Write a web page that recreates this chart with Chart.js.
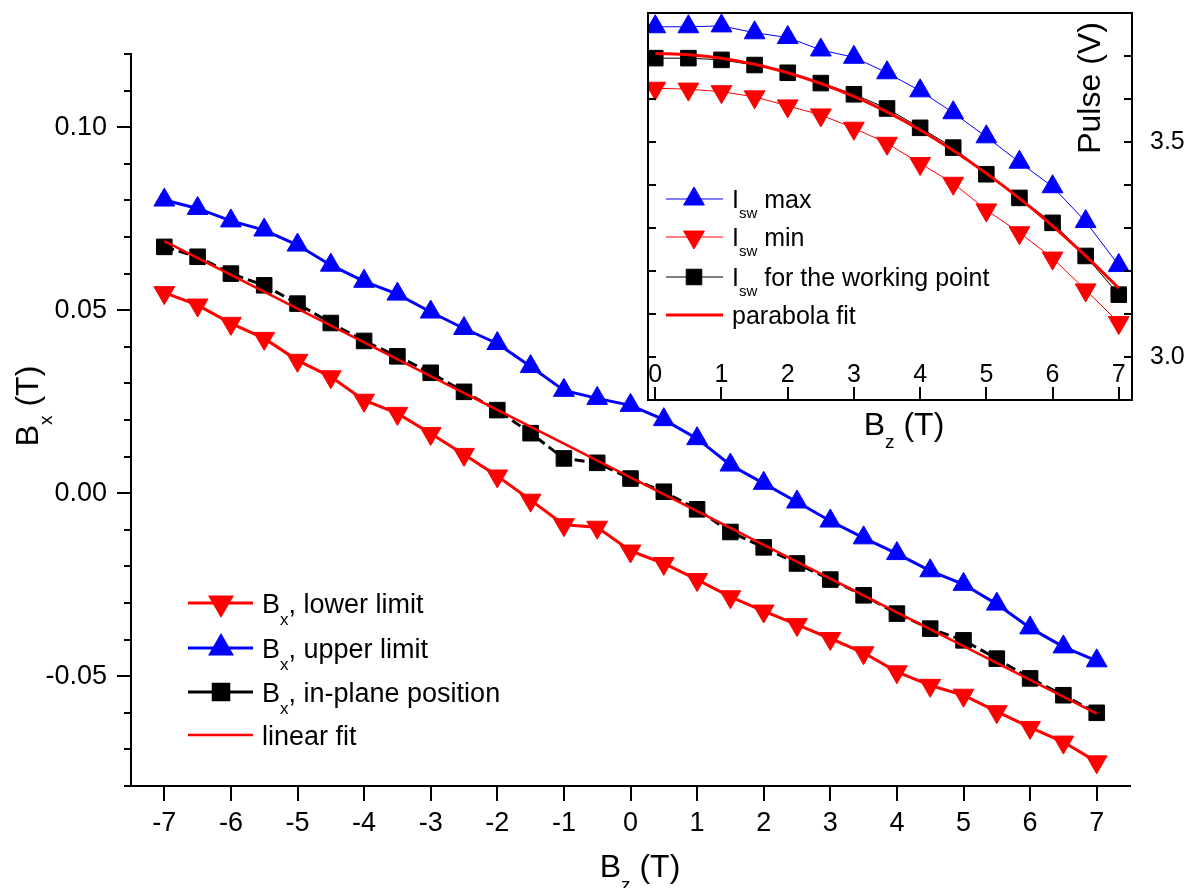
<!DOCTYPE html>
<html><head><meta charset="utf-8">
<script src="https://cdn.jsdelivr.net/npm/chart.js@4.4.1/dist/chart.umd.min.js"></script>
<style>
html,body{margin:0;padding:0;background:#fff;}
#wrap{position:relative;width:1188px;height:888px;overflow:hidden;background:#fff;}
#main{position:absolute;left:0;top:0;}
#inset{position:absolute;left:600px;top:0;}
</style></head><body>
<div id="wrap"><canvas id="main" width="1188" height="888"></canvas><canvas id="inset" width="588" height="450"></canvas></div>
<script>
// ---------- main chart data ----------
const bz = [-7,-6.5,-6,-5.5,-5,-4.5,-4,-3.5,-3,-2.5,-2,-1.5,-1,-0.5,0,0.5,1,1.5,2,2.5,3,3.5,4,4.5,5,5.5,6,6.5,7];
const bxLower = [0.0548,0.0514,0.0464,0.0423,0.0363,0.0318,0.0254,0.0218,0.0163,0.0106,0.0047,-0.0019,-0.0086,-0.0093,-0.0158,-0.0192,-0.0236,-0.0283,-0.0322,-0.0359,-0.0397,-0.0436,-0.0488,-0.0525,-0.0552,-0.0597,-0.0640,-0.0680,-0.0734];
const bxUpper = [0.0801,0.0778,0.0744,0.0719,0.0678,0.0623,0.0579,0.0544,0.0495,0.0450,0.0409,0.0346,0.0281,0.0259,0.0240,0.0201,0.0149,0.0077,0.0027,-0.0024,-0.0076,-0.0122,-0.0165,-0.0212,-0.0249,-0.0303,-0.0368,-0.0420,-0.0458];
const bxInPlane = [0.0673,0.0646,0.0600,0.0568,0.0518,0.0465,0.0416,0.0374,0.0329,0.0277,0.0227,0.0164,0.0095,0.0083,0.0040,0.0004,-0.0044,-0.0106,-0.0148,-0.0192,-0.0236,-0.0279,-0.0329,-0.0370,-0.0402,-0.0452,-0.0506,-0.0552,-0.0600];
const linFitX = [-7, 7];
const linFitY = [0.0689, -0.0602];

const mainXTicks = [-7,-6,-5,-4,-3,-2,-1,0,1,2,3,4,5,6,7];
const mainYTicks = [-0.08,-0.07,-0.06,-0.05,-0.04,-0.03,-0.02,-0.01,0,0.01,0.02,0.03,0.04,0.05,0.06,0.07,0.08,0.09,0.10,0.11,0.12];
const mainYMajor = [-0.05, 0, 0.05, 0.10];
const mainYLabels = ['-0.05', '0.00', '0.05', '0.10'];

const mainLegendHead = ['B', 'B', 'B', 'linear fit'];
const mainLegendSub  = ['x', 'x', 'x', ''];
const mainLegendTail = [', lower limit', ', upper limit', ', in-plane position', ''];

// ---------- inset data ----------
const bzInset = [0,0.5,1,1.5,2,2.5,3,3.5,4,4.5,5,5.5,6,6.5,7];
const iswMax  = [3.768,3.768,3.770,3.754,3.743,3.714,3.697,3.661,3.619,3.568,3.512,3.453,3.396,3.315,3.213];
const iswMin  = [3.625,3.623,3.617,3.605,3.584,3.563,3.532,3.497,3.450,3.404,3.342,3.289,3.230,3.156,3.080];
const iswWork = [3.695,3.695,3.691,3.679,3.661,3.637,3.611,3.578,3.533,3.487,3.425,3.370,3.312,3.235,3.145];
const parabolaFit = [3.706,3.703,3.695,3.681,3.661,3.636,3.606,3.570,3.528,3.480,3.427,3.369,3.305,3.235,3.160];

const insetXTicks = [0,1,2,3,4,5,6,7];
const insetXLabels = ['0','1','2','3','4','5','6','7'];
const insetYTicks = [2.9,3.0,3.1,3.2,3.3,3.4,3.5,3.6,3.7,3.8];
const insetYMajor = [3.0, 3.5];
const insetYLabels = ['3.0', '3.5'];

const insetLegendHead = ['I', 'I', 'I', 'parabola fit'];
const insetLegendSub  = ['sw', 'sw', 'sw', ''];
const insetLegendTail = [' max', ' min', ' for the working point', ''];

// ---------- helpers ----------
const FONT = "'Liberation Sans', Arial, Helvetica, sans-serif";
function pts(xs, ys) { return xs.map((x, i) => ({x: x, y: ys[i]})); }
function majorIndex(list, v) { for (let i = 0; i < list.length; i++) if (Math.abs(list[i] - v) < 1e-9) return i; return -1; }
function noPad(s) { s.paddingTop = 0; s.paddingBottom = 0; s.paddingLeft = 0; s.paddingRight = 0; }

function drawRich(ctx, x, y, parts, align, rot) {
  ctx.save();
  ctx.translate(x, y);
  ctx.rotate(rot || 0);
  ctx.textBaseline = 'alphabetic';
  ctx.textAlign = 'left';
  ctx.fillStyle = '#000';
  let w = 0;
  parts.forEach(p => { ctx.font = p.s + 'px ' + FONT; p.w = ctx.measureText(p.t).width; w += p.w; });
  let cx = align === 'center' ? -w / 2 : 0;
  parts.forEach(p => { ctx.font = p.s + 'px ' + FONT; ctx.fillText(p.t, cx, p.dy || 0); cx += p.w; });
  ctx.restore();
}

function legendSample(ctx, x1, x2, xm, y, color, lw, style, rot, radius) {
  ctx.save();
  ctx.strokeStyle = color; ctx.lineWidth = lw; ctx.setLineDash([]);
  ctx.beginPath(); ctx.moveTo(x1, y); ctx.lineTo(x2, y); ctx.stroke();
  if (style) {
    ctx.fillStyle = color; ctx.strokeStyle = color;
    Chart.helpers.drawPoint(ctx, {pointStyle: style, radius: radius, rotation: rot, borderWidth: 1}, xm, y);
  }
  ctx.restore();
}

// ---------- main chart ----------
const mainDecor = {
  id: 'mainDecor',
  afterDraw(chart) {
    const ctx = chart.ctx, ca = chart.chartArea, xs = chart.scales.x, ys = chart.scales.y;
    ctx.save();
    ctx.strokeStyle = '#000'; ctx.lineWidth = 2;
    ctx.beginPath();
    mainYTicks.forEach(v => {
      const py = Math.round(ys.getPixelForValue(v));
      const len = majorIndex(mainYMajor, v) >= 0 ? 14 : 7;
      ctx.moveTo(ca.left - len, py); ctx.lineTo(ca.left, py);
    });
    mainXTicks.forEach(v => {
      const px = Math.round(xs.getPixelForValue(v));
      ctx.moveTo(px, ca.bottom); ctx.lineTo(px, ca.bottom + 15);
    });
    ctx.stroke();
    ctx.restore();

    drawRich(ctx, 640, 877, [{t: 'B', s: 32}, {t: 'z', s: 19, dy: 14}, {t: ' (T)', s: 32}], 'center', 0);
    drawRich(ctx, 38, 406, [{t: 'B', s: 32}, {t: 'x', s: 19, dy: 14}, {t: ' (T)', s: 32}], 'center', -Math.PI / 2);

    const ly = [603, 648, 692, 735];
    const cols = ['#ff0000', '#0000ff', '#000000', '#ff0000'];
    const styles = ['triangle', 'triangle', 'rect', null];
    const rots = [180, 0, 0, 0];
    const lws = [3, 3, 3, 2.5];
    for (let i = 0; i < 4; i++) {
      legendSample(ctx, 188, 253, 221, ly[i], cols[i], lws[i], styles[i], rots[i], styles[i] === 'rect' ? 11 : 12);
      const parts = [{t: mainLegendHead[i], s: 27}];
      if (mainLegendSub[i]) parts.push({t: mainLegendSub[i], s: 17, dy: 12});
      if (mainLegendTail[i]) parts.push({t: mainLegendTail[i], s: 27});
      drawRich(ctx, 262, ly[i] + 10, parts, 'left', 0);
    }
  }
};

new Chart(document.getElementById('main'), {
  type: 'scatter',
  data: {
    datasets: [
      {label: 'linear fit', data: pts(linFitX, linFitY), showLine: true, borderColor: '#ff0000', borderWidth: 2.5, pointRadius: 0, order: 0},
      {label: 'Bx, in-plane position', data: pts(bz, bxInPlane), showLine: true, borderColor: '#000', backgroundColor: '#000', borderWidth: 3, borderDash: [10, 5], pointStyle: 'rect', pointRadius: 11, pointBorderWidth: 1, pointBorderColor: '#000', order: 1},
      {label: 'Bx, lower limit', data: pts(bz, bxLower), showLine: true, borderColor: '#ff0000', backgroundColor: '#ff0000', borderWidth: 3, pointStyle: 'triangle', pointRotation: 180, pointRadius: 12, pointBorderWidth: 1, pointBorderColor: '#ff0000', order: 2},
      {label: 'Bx, upper limit', data: pts(bz, bxUpper), showLine: true, borderColor: '#0000ff', backgroundColor: '#0000ff', borderWidth: 3, pointStyle: 'triangle', pointRadius: 12, pointBorderWidth: 1, pointBorderColor: '#0000ff', order: 3}
    ]
  },
  options: {
    responsive: false, animation: false, devicePixelRatio: 1, events: [],
    layout: {padding: {left: 0, top: 54, right: 58, bottom: 0}},
    plugins: {legend: {display: false}, tooltip: {enabled: false}},
    scales: {
      x: {
        type: 'linear', position: 'bottom', min: -7.5, max: 7.5,
        afterBuildTicks: s => { s.ticks = mainXTicks.map(v => ({value: v})); },
        afterFit: s => { s.height = 102; noPad(s); },
        grid: {display: false, drawTicks: false},
        border: {display: true, color: '#000', width: 2},
        ticks: {autoSkip: false, maxRotation: 0, minRotation: 0, padding: 21, color: '#000', font: {family: FONT, size: 27}, callback: v => String(v)}
      },
      y: {
        type: 'linear', position: 'left', min: -0.08, max: 0.12,
        afterBuildTicks: s => { s.ticks = mainYTicks.map(v => ({value: v})); },
        afterFit: s => { s.width = 131; noPad(s); },
        grid: {display: false, drawTicks: false},
        border: {display: true, color: '#000', width: 2},
        ticks: {autoSkip: false, padding: 24, color: '#000', font: {family: FONT, size: 27}, callback: v => { const i = majorIndex(mainYMajor, v); return i >= 0 ? mainYLabels[i] : ''; }}
      }
    }
  },
  plugins: [mainDecor]
});

// ---------- inset chart ----------
const insetDecor = {
  id: 'insetDecor',
  beforeDraw(chart) {
    const ctx = chart.ctx, ca = chart.chartArea;
    ctx.save(); ctx.fillStyle = '#fff';
    ctx.fillRect(ca.left, ca.top, ca.right - ca.left, ca.bottom - ca.top);
    ctx.restore();
  },
  afterDraw(chart) {
    const ctx = chart.ctx, ca = chart.chartArea, xs = chart.scales.x, ys = chart.scales.y;
    ctx.save();
    ctx.strokeStyle = '#000'; ctx.lineWidth = 2;
    ctx.strokeRect(ca.left, ca.top, ca.right - ca.left, ca.bottom - ca.top);
    ctx.beginPath();
    insetXTicks.forEach(v => {
      const px = Math.round(xs.getPixelForValue(v));
      ctx.moveTo(px, ca.bottom); ctx.lineTo(px, ca.bottom - 13);
    });
    insetYTicks.forEach(v => {
      const py = Math.round(ys.getPixelForValue(v));
      ctx.moveTo(ca.left, py); ctx.lineTo(ca.left + 8, py);
      ctx.moveTo(ca.right, py); ctx.lineTo(ca.right - 8, py);
    });
    ctx.stroke();
    ctx.fillStyle = '#000';
    ctx.font = '25px ' + FONT;
    ctx.textAlign = 'center'; ctx.textBaseline = 'alphabetic';
    insetXTicks.forEach((v, i) => {
      ctx.fillText(insetXLabels[i], xs.getPixelForValue(v), ca.bottom - 18);
    });
    ctx.restore();

    drawRich(ctx, 304, 435, [{t: 'B', s: 32}, {t: 'z', s: 19, dy: 13}, {t: ' (T)', s: 32}], 'center', 0);
    drawRich(ctx, 500, 88, [{t: 'Pulse (V)', s: 32}], 'center', -Math.PI / 2);

    const ly = [199, 237, 277, 315];
    const cols = ['#0000ff', '#ff0000', '#000000', '#ff0000'];
    const styles = ['triangle', 'triangle', 'rect', null];
    const rots = [0, 180, 0, 0];
    const lws = [1, 1, 1, 3];
    for (let i = 0; i < 4; i++) {
      legendSample(ctx, 66, 123, 94, ly[i], cols[i], lws[i], styles[i], rots[i], styles[i] === 'rect' ? 11 : 12);
      const parts = [{t: insetLegendHead[i], s: 25}];
      if (insetLegendSub[i]) parts.push({t: insetLegendSub[i], s: 15, dy: 10});
      if (insetLegendTail[i]) parts.push({t: insetLegendTail[i], s: 25});
      drawRich(ctx, 132, ly[i] + 9, parts, 'left', 0);
    }
  }
};

new Chart(document.getElementById('inset'), {
  type: 'scatter',
  data: {
    datasets: [
      {label: 'parabola fit', data: pts(bzInset, parabolaFit), showLine: true, borderColor: '#ff0000', borderWidth: 3, pointRadius: 0, tension: 0.3, clip: 0, order: 0},
      {label: 'Isw for the working point', data: pts(bzInset, iswWork), showLine: true, borderColor: '#000', backgroundColor: '#000', borderWidth: 1, pointStyle: 'rect', pointRadius: 11, pointBorderWidth: 1, pointBorderColor: '#000', clip: 0, order: 1},
      {label: 'Isw min', data: pts(bzInset, iswMin), showLine: true, borderColor: '#ff0000', backgroundColor: '#ff0000', borderWidth: 1, pointStyle: 'triangle', pointRotation: 180, pointRadius: 12, pointBorderWidth: 1, pointBorderColor: '#ff0000', clip: 0, order: 2},
      {label: 'Isw max', data: pts(bzInset, iswMax), showLine: true, borderColor: '#0000ff', backgroundColor: '#0000ff', borderWidth: 1, pointStyle: 'triangle', pointRadius: 12, pointBorderWidth: 1, pointBorderColor: '#0000ff', clip: 0, order: 3}
    ]
  },
  options: {
    responsive: false, animation: false, devicePixelRatio: 1, events: [],
    layout: {padding: {left: 48, top: 13, right: 0, bottom: 0}},
    plugins: {legend: {display: false}, tooltip: {enabled: false}},
    scales: {
      x: {
        type: 'linear', position: 'bottom', min: -0.11, max: 7.2,
        afterBuildTicks: s => { s.ticks = insetXTicks.map(v => ({value: v})); },
        afterFit: s => { s.height = 50; noPad(s); },
        grid: {display: false, drawTicks: false},
        border: {display: false},
        ticks: {display: false}
      },
      y: {
        type: 'linear', position: 'right', min: 2.9, max: 3.8,
        afterBuildTicks: s => { s.ticks = insetYTicks.map(v => ({value: v})); },
        afterFit: s => { s.width = 56; noPad(s); },
        grid: {display: false, drawTicks: false},
        border: {display: false},
        ticks: {autoSkip: false, padding: 18, color: '#000', font: {family: FONT, size: 25}, callback: v => { const i = majorIndex(insetYMajor, v); return i >= 0 ? insetYLabels[i] : ''; }}
      }
    }
  },
  plugins: [insetDecor]
});
</script>
</body></html>
